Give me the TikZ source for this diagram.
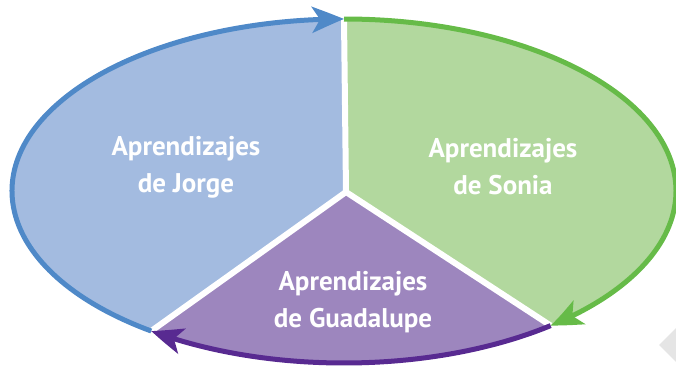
\documentclass[tikz,border=0pt]{standalone}
\usepackage{fontspec}
\setmainfont{PT Sans}
\usetikzlibrary{arrows.meta,bending}
\definecolor{bfill}{RGB}{163,187,224}
\definecolor{gfill}{RGB}{178,216,158}
\definecolor{pfill}{RGB}{157,134,190}
\definecolor{bline}{RGB}{79,137,200}
\definecolor{gline}{RGB}{102,187,72}
\definecolor{pline}{RGB}{88,42,145}
\definecolor{diam}{RGB}{229,229,229}
\tikzset{
  ring/.style={line width=5pt, -{Stealth[length=32pt,width=26pt,inset=8pt,bend]}},
  sep/.style={white, line width=6pt},
  lbl/.style={text=white, align=center, font=\bfseries\fontsize{27}{37}\selectfont, inner sep=0pt},
  el/.style={x radius=332pt, y radius=172pt}
}
\begin{document}
\begin{tikzpicture}[x=1pt,y=1pt]
\useasboundingbox (0,0) rectangle (676,368);
\clip (0,0) rectangle (676,368);
\coordinate (C) at (344,177);
\coordinate (P) at (346,176);
\path (C) ++(90:332pt and 172pt) coordinate (T);
\path (C) ++(234.5:332pt and 172pt) coordinate (BL);
\path (C) ++(-51.5:332pt and 172pt) coordinate (BR);
% background diamond
\fill[diam] (659,23) -- (683,47) -- (707,23) -- (683,-1) -- cycle;
% sectors
\fill[bfill] (P) -- (T) arc[el, start angle=90, end angle=234.5] -- cycle;
\fill[gfill] (P) -- (T) arc[el, start angle=90, end angle=-51.5] -- cycle;
\fill[pfill] (P) -- (BR) arc[el, start angle=-51.5, end angle=-125.5] -- cycle;
% separators
\draw[sep] (P) -- (T);
\draw[sep] (P) -- (BL);
\draw[sep] (P) -- (BR);
% arcs
\draw[ring, bline] (BL) arc[el, start angle=234.5, end angle=90];
\draw[ring, gline] (T) arc[el, start angle=90, end angle=-51.5];
\draw[ring, pline] (BR) arc[el, start angle=-51.5, end angle=-125.5];
% labels
\node[lbl] (jorge) at (186,201) {Aprendizajes\\de Jorge};
\node[lbl] (sonia) at (503,201) {Aprendizajes\\de Sonia};
\node[lbl] (guada) at (353,66) {Aprendizajes\\de Guadalupe};
\end{tikzpicture}
\end{document}
